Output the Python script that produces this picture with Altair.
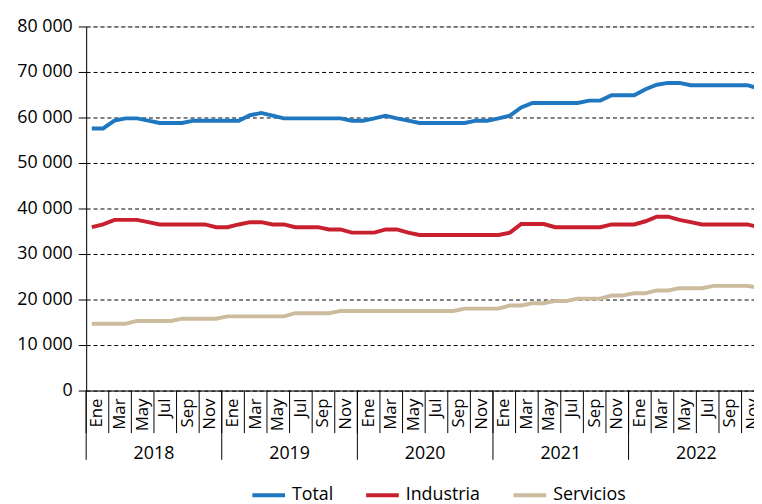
import altair as alt
import pandas as pd

years = ["2018", "2019", "2020", "2021", "2022"]
month_names = ["Ene", "Feb", "Mar", "Abr", "May", "Jun", "Jul", "Ago", "Sep", "Oct", "Nov", "Dic"]
series_names = ["Total", "Industria", "Servicios"]
series_colors = ["#1f77c0", "#c8202f", "#cdbb9e"]

total = [57600, 57600, 59300, 59800, 59800, 59300, 58800, 58800, 58800, 59300, 59300, 59300,
         59300, 59300, 60500, 61000, 60400, 59800, 59800, 59800, 59800, 59800, 59800, 59300,
         59300, 59800, 60400, 59800, 59300, 58800, 58800, 58800, 58800, 58800, 59300, 59300,
         59800, 60400, 62200, 63200, 63200, 63200, 63200, 63200, 63700, 63700, 64900, 64900,
         64900, 66200, 67200, 67600, 67600, 67100, 67100, 67100, 67100, 67100, 67100, 66400]
industria = [35900, 36500, 37500, 37500, 37500, 37000, 36500, 36500, 36500, 36500, 36500, 35900,
             35900, 36500, 37000, 37000, 36500, 36500, 35900, 35900, 35900, 35400, 35400, 34700,
             34700, 34700, 35400, 35400, 34700, 34200, 34200, 34200, 34200, 34200, 34200, 34200,
             34200, 34700, 36600, 36600, 36600, 35900, 35900, 35900, 35900, 35900, 36500, 36500,
             36500, 37200, 38200, 38200, 37500, 37000, 36500, 36500, 36500, 36500, 36500, 35900]
servicios = [14700, 14700, 14700, 14700, 15300, 15300, 15300, 15300, 15800, 15800, 15800, 15800,
             16300, 16300, 16300, 16300, 16300, 16300, 17000, 17000, 17000, 17000, 17500, 17500,
             17500, 17500, 17500, 17500, 17500, 17500, 17500, 17500, 17500, 18000, 18000, 18000,
             18000, 18700, 18700, 19200, 19200, 19700, 19700, 20200, 20200, 20200, 20900, 20900,
             21400, 21400, 22000, 22000, 22500, 22500, 22500, 23000, 23000, 23000, 23000, 22600]

n = len(total)
rows = []
for name, vals in zip(series_names, [total, industria, servicios]):
    for i, v in enumerate(vals):
        rows.append({"m": i, "serie": name, "valor": v})
df = pd.DataFrame(rows)

month_sep = pd.DataFrame({"b": [i - 0.5 for i in range(0, n, 2)]})
month_lab = pd.DataFrame({"c": [i + 0.5 for i in range(0, n, 2)],
                          "mes": [month_names[i % 12] for i in range(0, n, 2)]})
year_sep = pd.DataFrame({"b": [12 * k - 0.5 for k in range(len(years))]})
year_lab = pd.DataFrame({"c": [12 * k + 5.5 for k in range(len(years))], "year": years})

FONT = "Open Sans"
H = 368
xscale = alt.Scale(domain=[-0.5, 58.6], nice=False, zero=False)

lines = alt.Chart(df).mark_line(strokeWidth=4, clip=True).encode(
    x=alt.X("m:Q", scale=xscale, title=None,
            axis=alt.Axis(labels=False, ticks=False, grid=False,
                          domainColor="black", domainWidth=1)),
    y=alt.Y("valor:Q", scale=alt.Scale(domain=[0, 80000], nice=False), title=None,
            axis=alt.Axis(values=list(range(0, 80001, 10000)),
                          labelExpr="replace(format(datum.value, ','), regexp(',', 'g'), ' ')",
                          grid=True, gridColor="black", gridDash=[4, 3], gridWidth=1,
                          tickColor="black", tickSize=8, domainColor="black", domainWidth=1,
                          labelFontSize=18, labelPadding=6, labelColor="black", labelFont=FONT)),
    color=alt.Color("serie:N", scale=alt.Scale(domain=series_names, range=series_colors),
                    legend=alt.Legend(orient="none", legendX=166, legendY=455, direction="horizontal",
                                      title=None, symbolType="stroke", symbolSize=1089,
                                      symbolStrokeWidth=4, labelFontSize=18, labelFont=FONT,
                                      labelColor="black", columnPadding=25, labelOffset=5, padding=0)),
    order="m:Q",
)

msep = alt.Chart(month_sep).mark_rule(color="black", strokeWidth=1).encode(
    x=alt.X("b:Q", scale=xscale, title=None), y=alt.value(H), y2=alt.value(H + 43))
mlab = alt.Chart(month_lab).mark_text(fontSize=17, font=FONT, angle=270, align="right",
                                      baseline="middle", color="black").encode(
    x=alt.X("c:Q", scale=xscale, title=None), y=alt.value(H + 8), text="mes:N")
ysep = alt.Chart(year_sep).mark_rule(color="black", strokeWidth=1).encode(
    x=alt.X("b:Q", scale=xscale, title=None), y=alt.value(H), y2=alt.value(H + 70))
ylab = alt.Chart(year_lab).mark_text(fontSize=18, font=FONT, baseline="alphabetic", color="black").encode(
    x=alt.X("c:Q", scale=xscale, title=None), y=alt.value(H + 69), text="year:N")

chart = alt.layer(lines, msep, mlab, ysep, ylab).properties(
    width=675, height=H,
    autosize=alt.AutoSizeParams(type="none"),
    padding={"left": 79, "top": 16, "right": 0, "bottom": 112},
).configure_view(stroke=None).configure(font=FONT)

chart.save("out.html", embed_options={"renderer": "svg", "actions": False})
